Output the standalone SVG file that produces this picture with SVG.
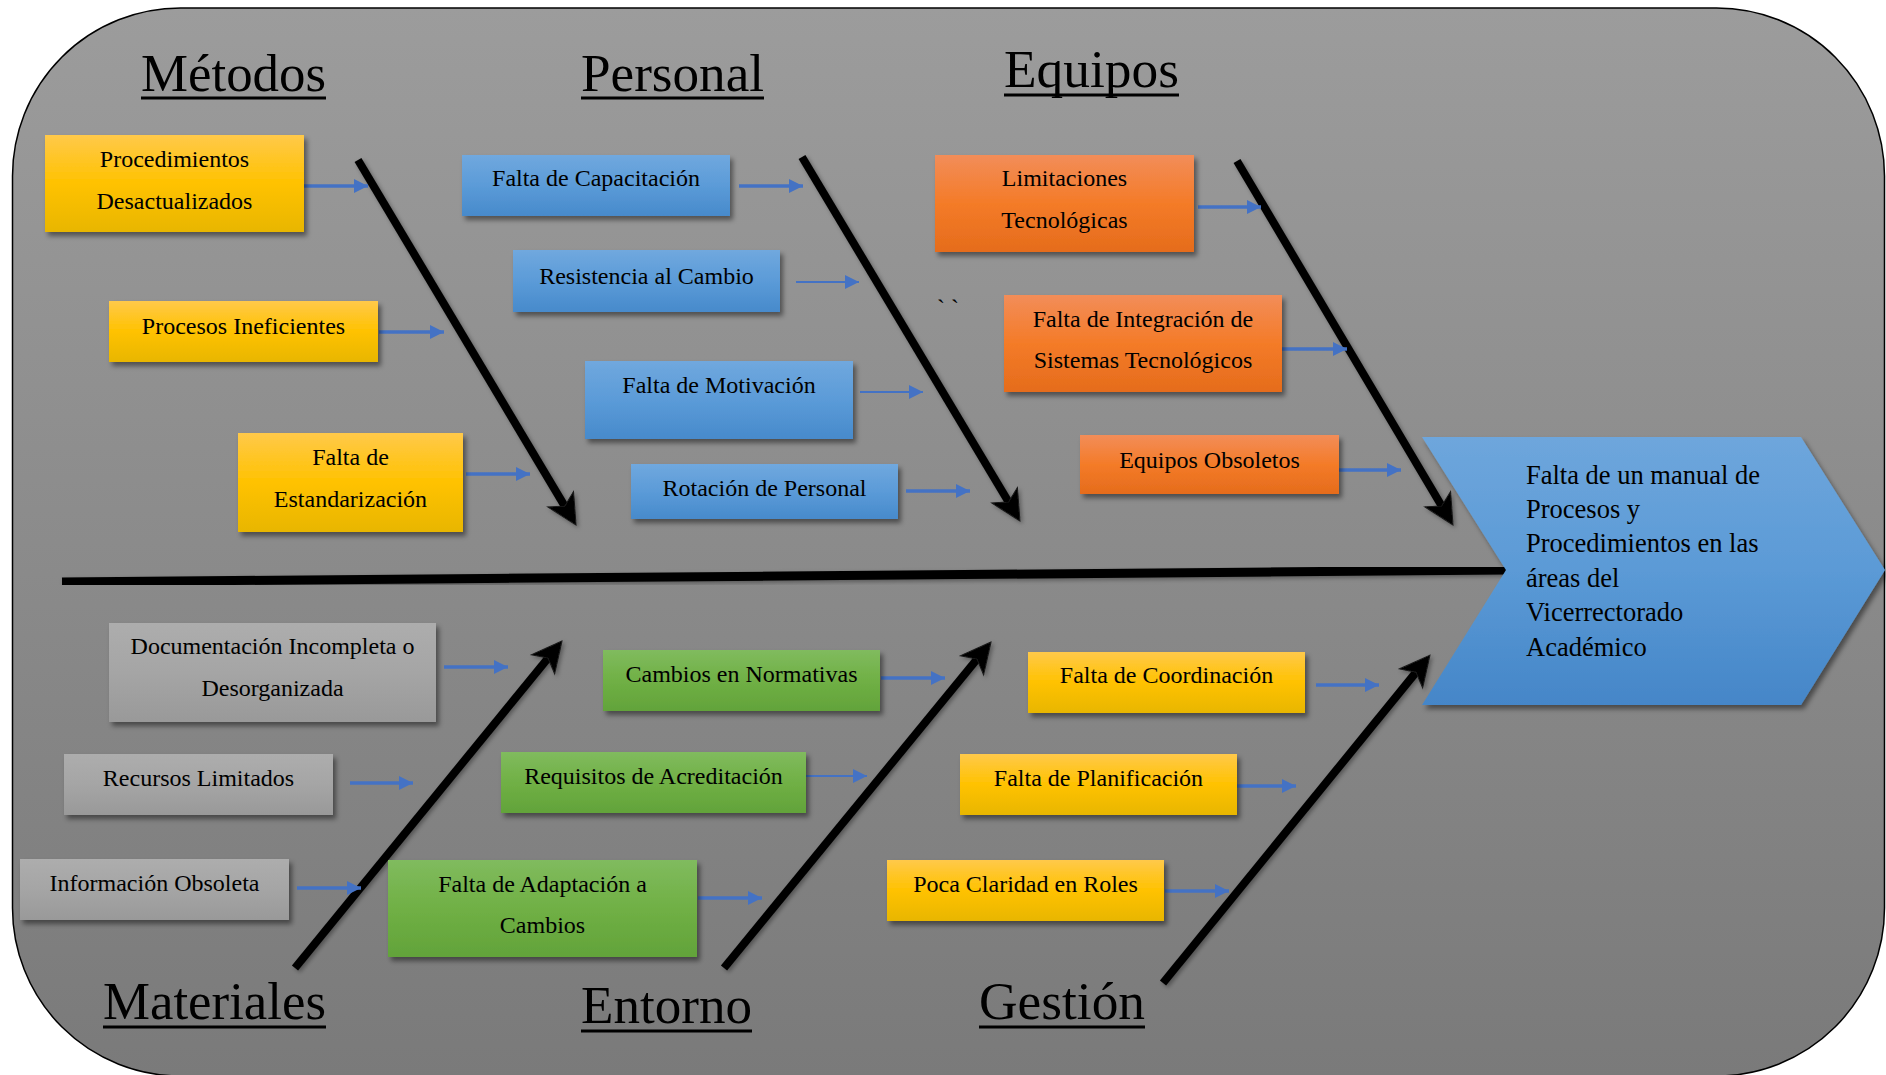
<svg xmlns="http://www.w3.org/2000/svg" width="1886" height="1075" viewBox="0 0 1886 1075">
  <defs>
    <linearGradient id="bg" x1="0" y1="0" x2="0" y2="1">
      <stop offset="0" stop-color="#9c9c9c"/>
      <stop offset="1" stop-color="#7a7a7a"/>
    </linearGradient>
    <linearGradient id="gYellow" x1="0" y1="0" x2="0" y2="1">
      <stop offset="0" stop-color="#ffc94a"/>
      <stop offset="0.5" stop-color="#ffc200"/>
      <stop offset="1" stop-color="#e8b600"/>
    </linearGradient>
    <linearGradient id="gBlue" x1="0" y1="0" x2="0" y2="1">
      <stop offset="0" stop-color="#70a8de"/>
      <stop offset="0.5" stop-color="#5b9bd8"/>
      <stop offset="1" stop-color="#478acb"/>
    </linearGradient>
    <linearGradient id="gOrange" x1="0" y1="0" x2="0" y2="1">
      <stop offset="0" stop-color="#f28d59"/>
      <stop offset="0.5" stop-color="#f47b28"/>
      <stop offset="1" stop-color="#e56c1c"/>
    </linearGradient>
    <linearGradient id="gGray" x1="0" y1="0" x2="0" y2="1">
      <stop offset="0" stop-color="#adadad"/>
      <stop offset="0.5" stop-color="#a5a5a5"/>
      <stop offset="1" stop-color="#999999"/>
    </linearGradient>
    <linearGradient id="gGreen" x1="0" y1="0" x2="0" y2="1">
      <stop offset="0" stop-color="#80bb5e"/>
      <stop offset="0.5" stop-color="#70b045"/>
      <stop offset="1" stop-color="#62a33a"/>
    </linearGradient>
    <linearGradient id="gHead" x1="0" y1="0" x2="0" y2="1">
      <stop offset="0" stop-color="#6ea6dc"/>
      <stop offset="0.5" stop-color="#5b9ad6"/>
      <stop offset="1" stop-color="#4586c8"/>
    </linearGradient>
    <filter id="shadow" x="-10%" y="-20%" width="130%" height="150%">
      <feDropShadow dx="3" dy="4" stdDeviation="2.5" flood-color="#000" flood-opacity="0.45"/>
    </filter>
    <filter id="bshadow" x="-20%" y="-20%" width="140%" height="140%">
      <feDropShadow dx="2" dy="2" stdDeviation="2" flood-color="#000" flood-opacity="0.35"/>
    </filter>
    <marker id="blueHead" markerUnits="userSpaceOnUse" markerWidth="15" markerHeight="15" refX="14" refY="7" orient="auto">
      <path d="M0,0 L14,7 L0,14 z" fill="#4472c4"/>
    </marker>
    <marker id="bigHead" markerUnits="userSpaceOnUse" markerWidth="32" markerHeight="32" refX="12" refY="15" orient="auto" overflow="visible">
      <path d="M30,15 L0,0 L8,15 L0,30 z" fill="#000" stroke="#1a1a1a" stroke-width="1"/>
    </marker>
    <style>
      .lbl { font-family: "Liberation Serif", "Times New Roman", serif; font-size: 24px; fill: #000; text-anchor: middle; }
      .title { font-family: "Liberation Serif", "Times New Roman", serif; font-size: 53px; fill: #000; }
      .ul { stroke: #000; stroke-width: 3; }
      .head { font-family: "Liberation Serif", "Times New Roman", serif; font-size: 26.5px; fill: #000; }
      .box { filter: url(#shadow); }
      .yellow { fill: url(#gYellow); }
      .blue { fill: url(#gBlue); }
      .orange { fill: url(#gOrange); }
      .gray { fill: url(#gGray); }
      .green { fill: url(#gGreen); }
      .link { stroke: #4472c4; stroke-width: 3.5; fill: none; marker-end: url(#blueHead); }
      .link.thin { stroke-width: 1.8; }
      .bone { stroke: #000; stroke-width: 8; fill: none; marker-end: url(#bigHead); filter: url(#bshadow); }
      .spine { stroke: #000; stroke-width: 9; fill: none; filter: url(#bshadow); }
    </style>
  </defs>

  <!-- panel -->
  <rect x="12.5" y="8" width="1872" height="1068" rx="168" ry="168" fill="url(#bg)" stroke="#000" stroke-width="1.5"/>

  <!-- category titles -->
  <g id="titles">
    <text class="title" x="141" y="91" textLength="185" lengthAdjust="spacingAndGlyphs">Métodos</text>
    <line class="ul" x1="141" y1="98" x2="326" y2="98"/>
    <text class="title" x="581" y="91" textLength="183" lengthAdjust="spacingAndGlyphs">Personal</text>
    <line class="ul" x1="581" y1="98" x2="764" y2="98"/>
    <text class="title" x="1004" y="87" textLength="175" lengthAdjust="spacingAndGlyphs">Equipos</text>
    <line class="ul" x1="1004" y1="95" x2="1179" y2="95"/>
    <text class="title" x="103" y="1019" textLength="223" lengthAdjust="spacingAndGlyphs">Materiales</text>
    <line class="ul" x1="103" y1="1027" x2="326" y2="1027"/>
    <text class="title" x="581" y="1023" textLength="171" lengthAdjust="spacingAndGlyphs">Entorno</text>
    <line class="ul" x1="581" y1="1031" x2="752" y2="1031"/>
    <text class="title" x="979" y="1019" textLength="166" lengthAdjust="spacingAndGlyphs">Gestión</text>
    <line class="ul" x1="979" y1="1027" x2="1145" y2="1027"/>
  </g>

  <text x="937" y="316" font-family="Liberation Serif, serif" font-size="24" letter-spacing="6">``</text>

  <!-- connectors -->
  <g id="connectors">
    <path class="spine" d="M62,582 L1507,570"/>
    <!-- bones: line stops short of the tip, marker carries it on -->
    <path class="bone" d="M358,160 L566.8,509.6"/>
    <path class="bone" d="M802,157 L1010.7,505.5"/>
    <path class="bone" d="M1237,161 L1443.8,509.5"/>
    <path class="bone" d="M295,968 L550.6,655"/>
    <path class="bone" d="M724,968 L979.6,656"/>
    <path class="bone" d="M1163,983 L1418.6,669.1"/>

    <path class="link" d="M304,186 L368,186"/>
    <path class="link" d="M379,332 L444,332"/>
    <path class="link" d="M466,474 L530,474"/>

    <path class="link" d="M739,186 L803,186"/>
    <path class="link thin" d="M796,282 L859,282"/>
    <path class="link thin" d="M860,392 L923,392"/>
    <path class="link" d="M906,491 L970,491"/>

    <path class="link" d="M1198,207 L1261,207"/>
    <path class="link" d="M1282,349 L1347,349"/>
    <path class="link" d="M1339,470 L1401,470"/>

    <path class="link" d="M444,667 L508,667"/>
    <path class="link" d="M350,783 L413,783"/>
    <path class="link" d="M297,888 L361,888"/>

    <path class="link" d="M881,678 L945,678"/>
    <path class="link thin" d="M804,776 L867,776"/>
    <path class="link" d="M698,898 L762,898"/>

    <path class="link" d="M1316,685 L1379,685"/>
    <path class="link" d="M1233,786 L1296,786"/>
    <path class="link" d="M1165,891 L1229,891"/>
  </g>

  <!-- Métodos -->
  <g id="procedimientos-desactualizados">
    <rect class="box yellow" x="45" y="135" width="259" height="97"/>
    <text class="lbl" x="174.5" y="167">Procedimientos</text>
    <text class="lbl" x="174.5" y="209">Desactualizados</text>
  </g>
  <g id="procesos-ineficientes">
    <rect class="box yellow" x="109" y="301" width="269" height="61"/>
    <text class="lbl" x="243.5" y="334">Procesos Ineficientes</text>
  </g>
  <g id="falta-estandarizacion">
    <rect class="box yellow" x="238" y="433" width="225" height="99"/>
    <text class="lbl" x="350.5" y="465">Falta de</text>
    <text class="lbl" x="350.5" y="507">Estandarización</text>
  </g>

  <!-- Personal -->
  <g id="falta-capacitacion">
    <rect class="box blue" x="462" y="155" width="268" height="61"/>
    <text class="lbl" x="596" y="186">Falta de Capacitación</text>
  </g>
  <g id="resistencia-cambio">
    <rect class="box blue" x="513" y="250" width="267" height="62"/>
    <text class="lbl" x="646.5" y="284">Resistencia al Cambio</text>
  </g>
  <g id="falta-motivacion">
    <rect class="box blue" x="585" y="361" width="268" height="78"/>
    <text class="lbl" x="719" y="393">Falta de Motivación</text>
  </g>
  <g id="rotacion-personal">
    <rect class="box blue" x="631" y="464" width="267" height="55"/>
    <text class="lbl" x="764.5" y="496">Rotación de Personal</text>
  </g>

  <!-- Equipos -->
  <g id="limitaciones-tecnologicas">
    <rect class="box orange" x="935" y="155" width="259" height="97"/>
    <text class="lbl" x="1064.5" y="186">Limitaciones</text>
    <text class="lbl" x="1064.5" y="228">Tecnológicas</text>
  </g>
  <g id="falta-integracion">
    <rect class="box orange" x="1004" y="295" width="278" height="97"/>
    <text class="lbl" x="1143" y="327">Falta de Integración de</text>
    <text class="lbl" x="1143" y="368">Sistemas Tecnológicos</text>
  </g>
  <g id="equipos-obsoletos">
    <rect class="box orange" x="1080" y="435" width="259" height="59"/>
    <text class="lbl" x="1209.5" y="468">Equipos Obsoletos</text>
  </g>

  <!-- Materiales -->
  <g id="documentacion-incompleta">
    <rect class="box gray" x="109" y="623" width="327" height="99"/>
    <text class="lbl" x="272.5" y="654">Documentación Incompleta o</text>
    <text class="lbl" x="272.5" y="696">Desorganizada</text>
  </g>
  <g id="recursos-limitados">
    <rect class="box gray" x="64" y="754" width="269" height="61"/>
    <text class="lbl" x="198.5" y="786">Recursos Limitados</text>
  </g>
  <g id="informacion-obsoleta">
    <rect class="box gray" x="20" y="859" width="269" height="61"/>
    <text class="lbl" x="154.5" y="891">Información Obsoleta</text>
  </g>

  <!-- Entorno -->
  <g id="cambios-normativas">
    <rect class="box green" x="603" y="650" width="277" height="61"/>
    <text class="lbl" x="741.5" y="682">Cambios en Normativas</text>
  </g>
  <g id="requisitos-acreditacion">
    <rect class="box green" x="501" y="752" width="305" height="61"/>
    <text class="lbl" x="653.5" y="784">Requisitos de Acreditación</text>
  </g>
  <g id="falta-adaptacion">
    <rect class="box green" x="388" y="860" width="309" height="97"/>
    <text class="lbl" x="542.5" y="892">Falta de Adaptación a</text>
    <text class="lbl" x="542.5" y="933">Cambios</text>
  </g>

  <!-- Gestión -->
  <g id="falta-coordinacion">
    <rect class="box yellow" x="1028" y="652" width="277" height="61"/>
    <text class="lbl" x="1166.5" y="683">Falta de Coordinación</text>
  </g>
  <g id="falta-planificacion">
    <rect class="box yellow" x="960" y="754" width="277" height="61"/>
    <text class="lbl" x="1098.5" y="786">Falta de Planificación</text>
  </g>
  <g id="poca-claridad">
    <rect class="box yellow" x="887" y="860" width="277" height="61"/>
    <text class="lbl" x="1025.5" y="892">Poca Claridad en Roles</text>
  </g>

  <!-- effect (fish head) -->
  <g id="problema">
    <polygon class="box" points="1422,437 1801,437 1885,570 1801,705 1422,705 1506,570" fill="url(#gHead)"/>
    <text class="head" x="1526" y="484">Falta de un manual de</text>
    <text class="head" x="1526" y="518">Procesos y</text>
    <text class="head" x="1526" y="552">Procedimientos en las</text>
    <text class="head" x="1526" y="587">áreas del</text>
    <text class="head" x="1526" y="621">Vicerrectorado</text>
    <text class="head" x="1526" y="656">Académico</text>
  </g>
</svg>
